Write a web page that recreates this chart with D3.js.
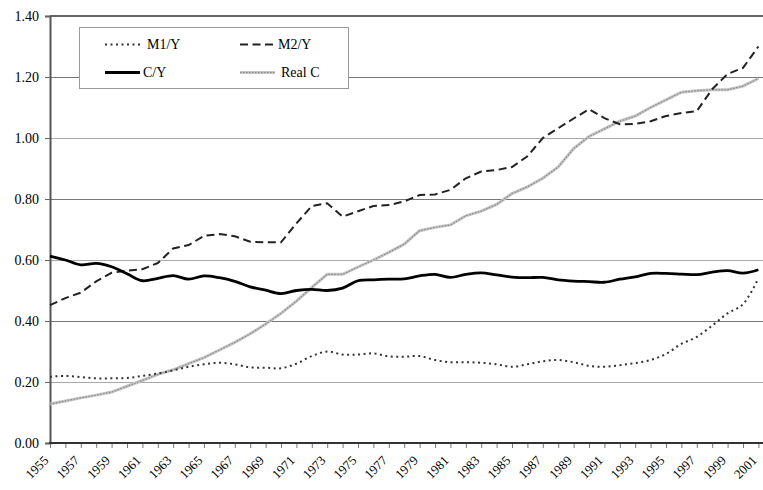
<!DOCTYPE html>
<html><head><meta charset="utf-8">
<script src="https://cdn.jsdelivr.net/npm/d3@7/dist/d3.min.js"></script>
<style>
body{margin:0;background:#fff}
text{font-family:"Liberation Serif","Times New Roman",serif;fill:#000}
</style>
</head><body>
<svg id="chart" width="763" height="490"></svg>
<script>
const years = [1955,1956,1957,1958,1959,1960,1961,1962,1963,1964,1965,1966,1967,1968,1969,1970,1971,1972,1973,1974,1975,1976,1977,1978,1979,1980,1981,1982,1983,1984,1985,1986,1987,1988,1989,1990,1991,1992,1993,1994,1995,1996,1997,1998,1999,2000,2001];
const xLabels = [1955,1957,1959,1961,1963,1965,1967,1969,1971,1973,1975,1977,1979,1981,1983,1985,1987,1989,1991,1993,1995,1997,1999,2001];
const yTicks = [0,0.2,0.4,0.6,0.8,1.0,1.2,1.4];
const m1y = [0.217,0.220,0.216,0.212,0.212,0.213,0.220,0.228,0.238,0.250,
             0.258,0.263,0.258,0.248,0.247,0.245,0.260,0.285,0.300,0.290,
             0.290,0.294,0.284,0.283,0.285,0.272,0.265,0.265,0.263,0.258,
             0.250,0.258,0.268,0.272,0.265,0.253,0.250,0.255,0.262,0.272,
             0.292,0.325,0.348,0.385,0.425,0.455,0.540];
const m2y = [0.452,0.475,0.493,0.530,0.558,0.565,0.570,0.590,0.638,0.649,
             0.679,0.685,0.678,0.660,0.658,0.658,0.720,0.777,0.786,0.742,
             0.760,0.777,0.780,0.792,0.813,0.815,0.830,0.868,0.890,0.895,
             0.905,0.940,1.000,1.032,1.064,1.094,1.065,1.045,1.046,1.055,
             1.072,1.082,1.088,1.160,1.210,1.230,1.300];
const cy  = [0.613,0.600,0.584,0.589,0.578,0.555,0.532,0.540,0.549,0.537,
             0.548,0.542,0.530,0.512,0.501,0.490,0.500,0.504,0.500,0.508,
             0.532,0.535,0.537,0.538,0.548,0.553,0.543,0.553,0.558,0.551,
             0.544,0.542,0.543,0.535,0.531,0.529,0.527,0.537,0.545,0.556,
             0.556,0.554,0.552,0.560,0.565,0.557,0.568];
const realC = [0.128,0.138,0.148,0.157,0.167,0.186,0.205,0.225,0.240,0.260,
               0.280,0.305,0.330,0.358,0.390,0.425,0.465,0.510,0.553,0.553,
               0.577,0.600,0.625,0.652,0.696,0.707,0.715,0.745,0.760,0.782,
               0.818,0.840,0.868,0.905,0.965,1.005,1.030,1.055,1.072,1.100,
               1.125,1.150,1.155,1.158,1.158,1.170,1.195];

(function(){
const svg = d3.select("#chart");
const pL = 50, pR = 763, pT = 16, pB = 443;
const x = d3.scaleLinear().domain([1955, 2001]).range([pL, 758.4]);
const y = d3.scaleLinear().domain([0, 1.4]).range([pB, pT]);

// gridlines
svg.append("g").selectAll("line").data(yTicks.filter(d => d > 0 && d < 1.4)).join("line")
  .attr("x1", pL).attr("x2", pR)
  .attr("y1", d => Math.round(y(d)) + 0.5).attr("y2", d => Math.round(y(d)) + 0.5)
  .attr("stroke", (d, i) => i % 2 === 0 ? "#a8a8a8" : "#777").attr("stroke-width", 1);
// top border
svg.append("line").attr("x1", pL).attr("x2", pR).attr("y1", y(1.4)).attr("y2", y(1.4))
  .attr("stroke", "#666").attr("stroke-width", 2);

// y axis
const yAxis = svg.append("g").attr("transform", `translate(${pL},0)`)
  .call(d3.axisLeft(y).tickValues(yTicks).tickFormat(d => d.toFixed(2)).tickSize(5).tickPadding(6));
yAxis.select(".domain").attr("stroke", "#555").attr("stroke-width", 2);
yAxis.selectAll(".tick line").attr("stroke", "#666");
yAxis.selectAll("text").style("font-size", "14px").attr("font-family", "Liberation Serif");

// x axis
const xAxis = svg.append("g").attr("transform", `translate(0,${pB})`)
  .call(d3.axisBottom(x).tickValues(years).tickSize(5).tickFormat(""));
xAxis.select(".domain").remove();
xAxis.selectAll(".tick line").attr("stroke", "#777");
svg.append("line").attr("x1", pL - 1).attr("x2", pR).attr("y1", pB).attr("y2", pB)
  .attr("stroke", "#333").attr("stroke-width", 2);
svg.append("g").selectAll("text").data(xLabels).join("text")
  .attr("transform", d => `translate(${x(d) - 4},${pB + 15}) rotate(-45)`)
  .attr("text-anchor", "end").attr("dy", "0.35em")
  .style("font-size", "13px").text(d => d);

// lines
const linear = d3.line().x((d, i) => x(years[i])).y(d => y(d));
const smooth = d3.line().x((d, i) => x(years[i])).y(d => y(d)).curve(d3.curveCatmullRom.alpha(0.5));

svg.append("path").datum(realC).attr("d", linear).attr("fill", "none")
  .attr("stroke", "#c4c4c4").attr("stroke-width", 3);
svg.append("path").datum(realC).attr("d", linear).attr("fill", "none")
  .attr("stroke", "#8a8a8a").attr("stroke-width", 1.2).attr("stroke-dasharray", "1.5,1.5");
svg.append("path").datum(m1y).attr("d", smooth).attr("fill", "none")
  .attr("stroke", "#333").attr("stroke-width", 2).attr("stroke-dasharray", "2,3.5");
svg.append("path").datum(m2y).attr("d", linear).attr("fill", "none")
  .attr("stroke", "#222").attr("stroke-width", 2).attr("stroke-dasharray", "8,4.5");
svg.append("path").datum(cy).attr("d", smooth).attr("fill", "none")
  .attr("stroke", "#000").attr("stroke-width", 2.8);

// legend
const lg = svg.append("g");
lg.append("rect").attr("x", 79.5).attr("y", 27.5).attr("width", 269).attr("height", 61)
  .attr("fill", "#fff").attr("stroke", "#999");
const legendItems = [
  {name: "M1/Y", lx: 105, row: 0, style: {stroke: "#333", w: 2, dash: "2,3.5"}},
  {name: "M2/Y", lx: 240, row: 0, style: {stroke: "#222", w: 2, dash: "8,4.5"}},
  {name: "C/Y", lx: 105, row: 1, style: {stroke: "#000", w: 2.8, dash: null}},
  {name: "Real C", lx: 240, row: 1, style: {stroke: "#c4c4c4", w: 3, dash: null, overlay: true}}
];
legendItems.forEach(it => {
  const ly = it.row === 0 ? 44.5 : 72.5;
  lg.append("line").attr("x1", it.lx).attr("x2", it.lx + 35).attr("y1", ly).attr("y2", ly)
    .attr("stroke", it.style.stroke).attr("stroke-width", it.style.w)
    .attr("stroke-dasharray", it.style.dash);
  if (it.style.overlay) {
    lg.append("line").attr("x1", it.lx).attr("x2", it.lx + 35).attr("y1", ly).attr("y2", ly)
      .attr("stroke", "#8a8a8a").attr("stroke-width", 1.2).attr("stroke-dasharray", "1.5,1.5");
  }
  lg.append("text").attr("x", it.lx + 38 + (it.name === "Real C" ? 3 : 0) + (it.name === "M1/Y" ? 4 : 0))
    .attr("y", ly + 4.5).style("font-size", "14px").text(it.name);
});
})();
</script>
</body></html>
